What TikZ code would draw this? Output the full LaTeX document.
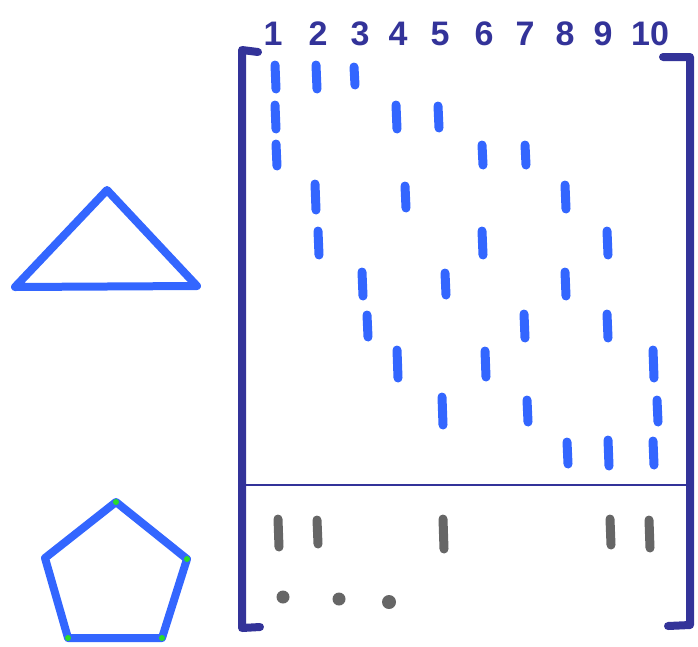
\documentclass[tikz,border=0pt]{standalone}
\usepackage{fontspec}
\setmainfont{Liberation Sans}
\definecolor{penblue}{RGB}{51,102,255}
\definecolor{navy}{RGB}{51,51,153}
\definecolor{pengray}{RGB}{102,102,102}
\definecolor{pengreen}{RGB}{40,220,40}
\tikzset{
  entry/.style={penblue, line width=9pt, line cap=round},
  grayentry/.style={pengray, line width=9pt, line cap=round},
  bracket/.style={navy, line width=8pt, line join=round, line cap=round},
  outline/.style={penblue, line width=8pt, line join=round, line cap=round},
  header/.style={navy, font=\fontsize{34}{34}\selectfont\bfseries, inner sep=0pt, anchor=center}
}
\newcommand{\dsh}[4][entry]{\draw[#1] (#2,#3-#4) -- (#2+1,#3+#4);}
\begin{document}
\begin{tikzpicture}[x=1pt,y=-1pt]
\useasboundingbox (0,0) rectangle (698,646);
% headers
\foreach \x/\t [count=\i] in {273/1,318/2,360/3,398/4,440/5,484/6,525/7,565/8,603/9,650/10}
  \node[header] (h\i) at (\x,34) {\t};
% brackets
\draw[bracket] (258,52) -- (242,50) -- (242,628) -- (260,627);
\draw[bracket] (663,57) -- (690,57) -- (690,625) -- (668,626);
% separator
\draw[navy, line width=1.8pt] (242,485) -- (690,485);
% incidence entries
\dsh{275}{77}{12} \dsh{316}{77}{12} \dsh{354}{76}{9}
\dsh{275}{117}{12} \dsh{396}{117}{12} \dsh{438}{117}{11}
\dsh{276}{155}{11} \dsh{482}{155}{10} \dsh{525}{155}{10}
\dsh{315}{197}{13} \dsh{405}{197}{11} \dsh{565}{197}{12}
\dsh{318}{243}{12} \dsh{482}{243}{12} \dsh{607}{243}{12}
\dsh{362}{284}{12} \dsh{445}{284}{11} \dsh{565}{284}{12}
\dsh{367}{326}{11} \dsh{524}{326}{12} \dsh{607}{326}{12}
\dsh{397}{364}{14} \dsh{485}{364}{13} \dsh{653}{364}{14}
\dsh{442}{411}{14} \dsh{527}{411}{11} \dsh{657}{411}{11}
\dsh{567}{453}{11} \dsh{608}{453}{13} \dsh{653}{453}{12}
% gray row
\dsh[grayentry]{278}{533}{14} \dsh[grayentry]{317}{532}{12} \dsh[grayentry]{443}{534}{15}
\dsh[grayentry]{610}{532}{13} \dsh[grayentry]{649}{534}{14}
\fill[pengray] (283,597) circle (6.5);
\fill[pengray] (339,599) circle (6.5);
\fill[pengray] (389,602) circle (7);
% triangle
\draw[outline] (107,190) -- (197,286) -- (15,287) -- cycle;
% pentagon
\coordinate (p1) at (116,502);
\coordinate (p2) at (187,559);
\coordinate (p3) at (162,638);
\coordinate (p4) at (68,638);
\coordinate (p5) at (45,558);
\draw[outline] (p1) -- (p2) -- (p3) -- (p4) -- (p5) -- cycle;
\foreach \p in {p1,p2,p3,p4} \fill[pengreen] (\p) circle (3);
\end{tikzpicture}
\end{document}
